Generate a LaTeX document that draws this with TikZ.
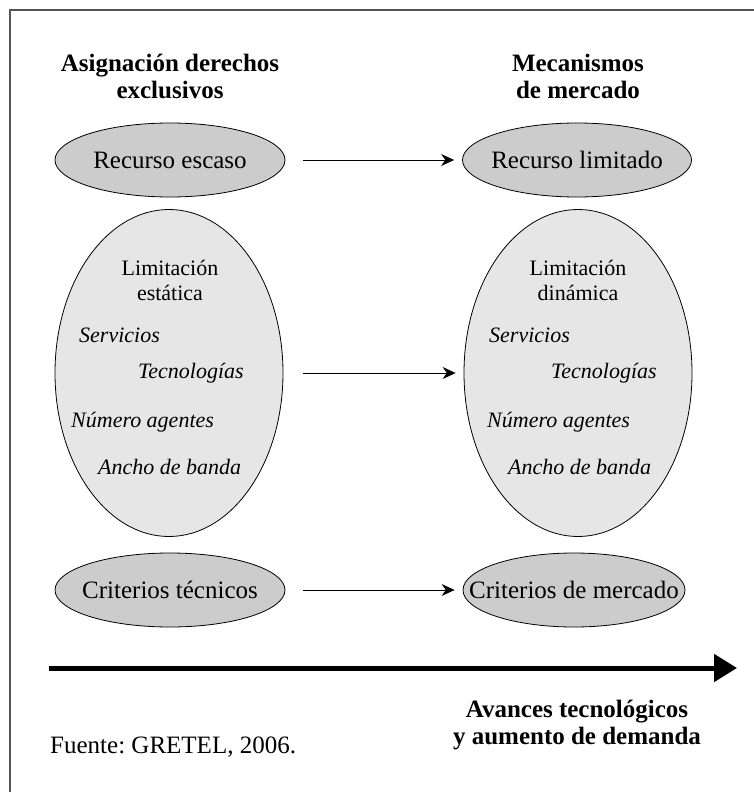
\documentclass[tikz,border=0pt]{standalone}
\usepackage{fontspec}
\setmainfont{Liberation Serif}
\usepackage{tikz}
\usetikzlibrary{arrows.meta,shapes.geometric}
\definecolor{ovaldark}{HTML}{CCCCCC}
\definecolor{ovallight}{HTML}{E6E6E6}
\definecolor{framegray}{HTML}{555555}
\newcommand{\ovaltext}[1]{\makebox[0pt]{#1}}
\frenchspacing
\tikzset{
	oval/.style={ellipse, draw=black, line width=0.8pt, inner sep=0pt, font=\fontsize{25}{27}\selectfont},
	smalloval/.style={oval, fill=ovaldark, minimum height=74pt},
	bigoval/.style={oval, fill=ovallight, minimum width=228pt, minimum height=327pt},
	heading/.style={align=center, inner sep=0pt, font=\fontsize{25}{27}\selectfont\bfseries},
	inner/.style={align=center, inner sep=0pt, font=\fontsize{22}{25}\selectfont},
	item/.style={anchor=west, inner sep=0pt, font=\fontsize{22}{25}\selectfont\itshape},
	flow/.style={-{Stealth[length=13pt,width=12pt]}, line width=0.9pt, shorten >=8pt}
}

\begin{document}
\begin{tikzpicture}[x=1pt, y=-1pt]
		%%%%% START %%%%%
		\useasboundingbox (0, 0) rectangle (754, 792);
		
		\draw[line width=2pt, color=framegray] (10, 792) -- (10, 10) -- (754, 10);
		
		\node[heading] (asig) at (170, 76) {Asignación derechos\\exclusivos};
		\node[heading] (meca) at (578, 76) {Mecanismos\\de mercado};
		
		\node[smalloval, minimum width=230pt] (escaso) at (170, 160) {\ovaltext{Recurso escaso}};
		\node[smalloval, minimum width=229pt] (limitado) at (577, 160) {\ovaltext{Recurso limitado}};
		
		\node[bigoval] (estatica) at (169, 373) {};
		\node[bigoval] (dinamica) at (578, 373) {};
		
		\node[inner] (limest) at (170, 280) {Limitación\\estática};
		\node[item] (servl) at (79, 335) {Servicios};
		\node[item] (tecnl) at (138, 373) {Tecnologías};
		\node[item] (numl) at (71, 422) {Número agentes};
		\node[item] (anchol) at (98, 467) {Ancho de banda};
		
		\node[inner] (limdin) at (578, 280) {Limitación\\dinámica};
		\node[item] (servr) at (489, 335) {Servicios};
		\node[item] (tecnr) at (551, 373) {Tecnologías};
		\node[item] (numr) at (487, 422) {Número agentes};
		\node[item] (anchor) at (508, 467) {Ancho de banda};
		
		\node[smalloval, minimum width=230pt] (tecnicos) at (170, 590) {\ovaltext{Criterios técnicos}};
		\node[smalloval, minimum width=222pt] (mercado) at (574, 590) {\ovaltext{Criterios de mercado}};
		
		\draw[flow, shorten <=18pt] (escaso) -- (limitado);
		\draw[flow, shorten <=20pt] (estatica) -- (dinamica);
		\draw[flow, shorten <=18pt] (tecnicos) -- (mercado);
		
		\coordinate (tstart) at (49, 668);
		\coordinate (tend) at (737, 668);
		\draw[line width=5pt, -{Triangle[length=23pt,width=27pt]}] (tstart) -- (tend);
		
		\node[heading] (avances) at (577, 725) {Avances tecnológicos\\y aumento de demanda};
		\node[anchor=west, inner sep=0pt, font=\fontsize{25}{27}\selectfont] (fuente) at (50, 747) {Fuente: GRETEL, 2006.};
		%%%%% END %%%%%
	\end{tikzpicture}
\end{document}
